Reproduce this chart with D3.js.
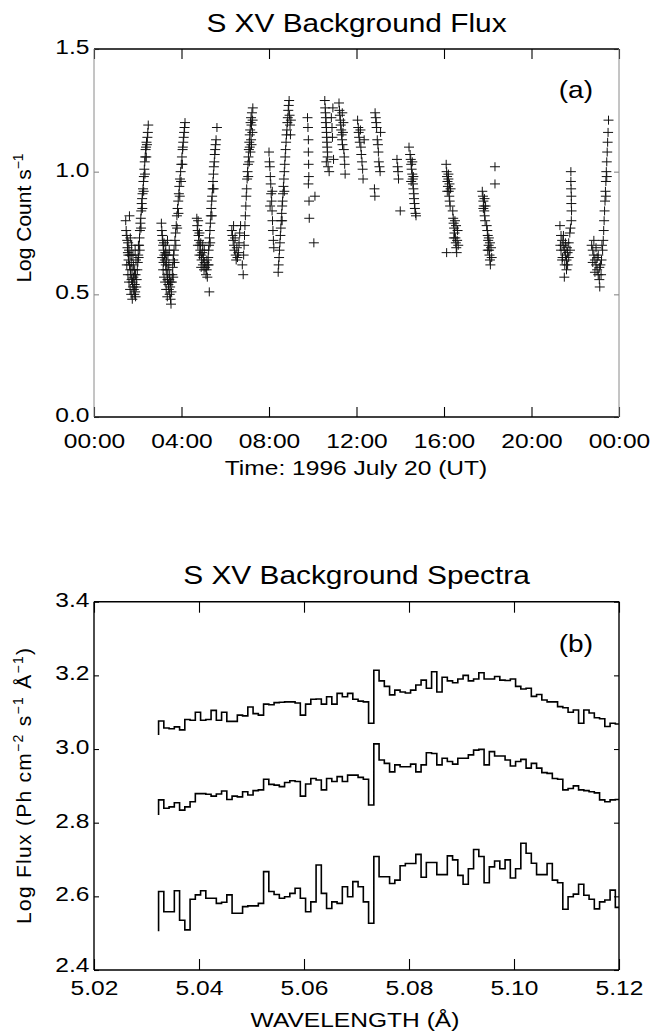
<!DOCTYPE html>
<html>
<head>
<meta charset="utf-8">
<script src="https://cdn.jsdelivr.net/npm/d3@7"></script>
<style>
  body { margin: 0; background: #fff; }
  svg text { font-family: "Liberation Sans", Arial, Helvetica, sans-serif; fill: #000; }
</style>
</head>
<body>
<svg id="chart" width="651" height="1033"></svg>
<script>
// ---- panel (a): S XV background flux, [hour UT, log count/s] per pass ----
const hourTicks = [0, 4, 8, 12, 16, 20, 24];
const hourLabels = ["00:00", "04:00", "08:00", "12:00", "16:00", "20:00", "00:00"];
const countTicks = [0, 0.5, 1.0, 1.5];

const passA = [[1.45,0.80],[1.47,0.76],[1.50,0.74],[1.52,0.72],[1.53,0.69],[1.55,0.67],[1.57,0.66],[1.58,0.64],[1.60,0.68],[1.62,0.62],[1.62,0.82],[1.64,0.66],[1.66,0.60],[1.68,0.58],[1.70,0.63],[1.72,0.56],[1.74,0.60],[1.76,0.55],[1.78,0.53],[1.80,0.57],[1.82,0.52],[1.84,0.50],[1.86,0.54],[1.88,0.51],[1.90,0.49],[1.93,0.53],[1.95,0.56],[1.56,0.71],[1.70,0.66],[1.84,0.58],
  [1.50,0.62],[1.55,0.58],[1.60,0.55],[1.65,0.52],[1.70,0.50],[1.75,0.48],[1.80,0.62],[1.86,0.60],[1.90,0.58],[1.92,0.64],[1.72,0.70],[1.66,0.73],[1.78,0.66],[1.88,0.68]];
const passB = [[1.98,0.60],[2.00,0.63],[2.02,0.66],[2.04,0.65],[2.06,0.70],[2.08,0.73],[2.10,0.76],[2.12,0.79],[2.14,0.81],[2.16,0.84],[2.18,0.87],[2.20,0.89],[2.22,0.91],[2.24,0.93],[2.26,0.96],[2.28,0.98],[2.30,1.01],[2.32,1.04],[2.34,1.06],[2.36,1.09],[2.38,1.10],[2.40,1.12],[2.42,1.11],[2.44,1.14],[2.46,1.16],[2.48,1.19],
  [2.03,0.70],[2.09,0.68],[2.15,0.77],[2.21,0.85],[2.27,0.92],[2.33,0.99],[2.39,1.06]];
const passC = [[3.08,0.79],[3.10,0.76],[3.12,0.74],[3.14,0.72],[3.16,0.70],[3.18,0.68],[3.20,0.71],[3.22,0.66],[3.24,0.64],[3.26,0.67],[3.28,0.62],[3.30,0.60],[3.32,0.63],[3.34,0.58],[3.36,0.56],[3.38,0.60],[3.40,0.54],[3.42,0.52],[3.44,0.56],[3.46,0.50],[3.48,0.53],[3.50,0.48],[3.52,0.46],[3.54,0.51],[3.18,0.63],[3.30,0.66],
  [3.12,0.65],[3.16,0.60],[3.20,0.57],[3.25,0.55],[3.30,0.52],[3.35,0.49],[3.38,0.66],[3.42,0.62],[3.46,0.58],[3.50,0.55],[3.28,0.70],[3.36,0.72],[3.44,0.68]];
const passD = [[3.56,0.55],[3.58,0.58],[3.60,0.61],[3.62,0.64],[3.64,0.66],[3.66,0.68],[3.70,0.72],[3.73,0.75],[3.76,0.78],[3.79,0.82],[3.82,0.85],[3.85,0.88],[3.88,0.91],[3.90,0.94],[3.93,0.97],[3.96,1.00],[3.99,1.03],[4.02,1.06],[4.05,1.09],[4.06,1.10],[4.08,1.12],[4.10,1.14],[4.12,1.16],[4.14,1.18],[4.16,1.20],
  [3.62,0.57],[3.68,0.63],[3.74,0.70],[3.80,0.77],[3.86,0.83],[3.92,0.90],[3.98,0.96],[4.04,1.03]];
const passE = [[4.70,0.81],[4.72,0.78],[4.74,0.76],[4.76,0.80],[4.78,0.74],[4.80,0.72],[4.82,0.75],[4.84,0.70],[4.86,0.68],[4.88,0.71],[4.90,0.66],[4.92,0.64],[4.95,0.67],[4.98,0.62],[5.00,0.65],[5.03,0.60],[5.06,0.63],[5.08,0.61],[5.27,0.51],
  [4.75,0.70],[4.82,0.66],[4.90,0.61],[4.97,0.70],[5.04,0.68]];
const passF = [[5.12,0.58],[5.15,0.60],[5.18,0.57],[5.20,0.62],[5.22,0.65],[5.24,0.68],[5.26,0.70],[5.28,0.73],[5.30,0.76],[5.32,0.79],[5.34,0.82],[5.36,0.85],[5.38,0.88],[5.40,0.90],[5.42,0.93],[5.44,0.96],[5.46,0.99],[5.48,1.02],[5.50,1.04],[5.52,1.07],[5.54,1.09],[5.56,1.11],[5.58,1.13],[5.62,1.18],
  [5.16,0.64],[5.24,0.62],[5.31,0.71],[5.39,0.82],[5.47,0.93]];
const passG = [[6.30,0.76],[6.33,0.74],[6.36,0.72],[6.38,0.78],[6.40,0.70],[6.42,0.68],[6.45,0.73],[6.48,0.66],[6.50,0.64],[6.53,0.69],[6.56,0.65],[6.60,0.67],[6.63,0.71],[6.66,0.75],[6.70,0.78]];
const passH = [[6.78,0.62],[6.82,0.58],[6.84,0.66],[6.86,0.70],[6.88,0.74],[6.90,0.78],[6.92,0.82],[6.94,0.86],[6.96,0.90],[6.98,0.93],[7.00,0.97],[7.02,1.00],[7.04,1.03],[7.06,1.06],[7.08,1.09],[7.10,1.12],[7.12,1.15],[7.14,1.17],[7.16,1.20],[7.18,1.22],[7.20,1.19],[7.22,1.24],[7.24,1.16],[7.26,1.26],[7.12,1.10],[7.18,1.13],
  [7.05,0.98],[7.10,1.04],[7.15,1.08],[7.20,1.11],[7.25,1.21]];
const passI = [[8.00,1.08],[8.02,1.04],[8.04,1.02],[8.05,0.86],[8.06,0.98],[8.08,0.95],[8.10,0.91],[8.12,0.88],[8.14,0.84],[8.15,0.92],[8.16,0.80],[8.18,0.76],[8.20,0.72],[8.22,0.69]];
const passJ = [[8.42,0.59],[8.44,0.62],[8.46,0.65],[8.48,0.68],[8.50,0.71],[8.52,0.74],[8.54,0.77],[8.56,0.80],[8.58,0.83],[8.60,0.86],[8.60,0.80],[8.62,0.88],[8.64,0.91],[8.66,0.94],[8.68,0.97],[8.70,1.00],[8.70,0.92],[8.72,1.03],[8.74,1.06],[8.76,1.09],[8.78,1.12],[8.80,1.15],[8.82,1.17],[8.84,1.20],[8.86,1.22],[8.88,1.25],[8.90,1.27],[8.92,1.29],[8.94,1.23],[8.96,1.19],[8.98,1.15],[9.00,1.21]];
const passK = [[9.76,1.22],[9.78,1.18],[9.80,1.13],[9.80,1.08],[9.81,1.03],[9.82,0.98],[9.80,0.95],[9.83,0.88],[9.84,0.81],[10.10,0.90],[10.05,0.71]];
const passL = [[10.55,1.29],[10.57,1.26],[10.58,1.24],[10.60,1.22],[10.60,1.20],[10.62,1.18],[10.63,1.16],[10.64,1.14],[10.65,1.12],[10.66,1.10],[10.67,1.08],[10.68,1.06],[10.62,1.04],[10.70,1.02],[10.75,1.00],[10.85,1.22],[10.88,1.18],[10.90,1.14],[10.92,1.26],[10.95,1.05]];
const passM = [[11.20,1.28],[11.22,1.25],[11.24,1.23],[11.26,1.21],[11.28,1.19],[11.30,1.17],[11.32,1.15],[11.34,1.13],[11.35,1.24],[11.36,1.11],[11.38,1.16],[11.40,1.20],[11.42,1.09],[11.44,1.06],[11.46,1.03],[11.48,0.99]];
const passN = [[12.05,1.21],[12.08,1.18],[12.10,1.16],[12.12,1.14],[12.15,1.12],[12.18,1.17],[12.20,1.10],[12.22,1.07],[12.25,1.04],[12.28,1.01],[12.30,0.97],[12.35,1.13]];
const passO = [[12.82,0.93],[12.84,0.90],[12.85,1.24],[12.88,1.22],[12.90,1.20],[12.92,1.18],[12.95,1.13],[12.98,1.11],[13.00,1.08],[13.02,1.04],[13.05,1.02],[13.08,1.00],[13.10,1.16]];
const passP = [[13.85,1.05],[13.88,1.02],[13.90,1.00],[13.92,0.97],[14.00,0.84]];
const passQ = [[14.40,1.10],[14.45,1.07],[14.48,1.05],[14.50,1.03],[14.50,0.96],[14.52,1.01],[14.55,0.99],[14.55,1.04],[14.57,0.97],[14.58,0.95],[14.60,0.93],[14.60,0.98],[14.62,0.91],[14.63,0.89],[14.65,0.87],[14.67,0.85],[14.70,0.83],[14.72,0.82]];
const passR = [[16.10,1.03],[16.12,1.00],[16.14,0.98],[16.16,0.96],[16.18,0.94],[16.20,0.97],[16.20,0.99],[16.22,0.92],[16.24,0.90],[16.26,0.88],[16.28,0.86],[16.30,0.93],[16.40,0.84],[16.42,0.81],[16.44,0.79],[16.46,0.77],[16.48,0.75],[16.50,0.80],[16.52,0.73],[16.54,0.71],[16.56,0.69],[16.58,0.67],[16.60,0.72],[16.62,0.76],[16.12,0.67],
  [16.15,0.92],[16.25,0.95],[16.45,0.73],[16.55,0.78],[16.65,0.70]];
const passS = [[17.75,0.92],[17.78,0.90],[17.80,0.88],[17.80,0.85],[17.82,0.86],[17.84,0.84],[17.85,0.89],[17.86,0.82],[17.88,0.80],[17.95,0.78],[17.98,0.76],[18.00,0.74],[18.02,0.72],[18.04,0.70],[18.05,0.73],[18.06,0.68],[18.08,0.66],[18.10,0.64],[18.12,0.62],[18.15,0.69],[18.33,1.02],[18.33,0.95],
  [17.90,0.86],[18.00,0.68],[18.10,0.71],[18.18,0.65]];
const passT = [[21.80,1.00],[21.80,0.96],[21.81,0.93],[21.82,0.90],[21.82,0.87],[21.83,0.84],[21.82,0.80],[21.30,0.78],[21.35,0.74],[21.40,0.72],[21.45,0.70],[21.50,0.68],[21.55,0.66],[21.60,0.64],[21.65,0.67],[21.70,0.71],[21.75,0.75],[21.78,0.77],[21.42,0.65],[21.52,0.62],[21.60,0.60],[21.50,0.57],[21.65,0.62],[21.35,0.68],
  [21.32,0.70],[21.40,0.64],[21.46,0.74],[21.55,0.71],[21.62,0.69],[21.70,0.65],[21.76,0.68]];
const passU = [[22.75,0.70],[22.80,0.68],[22.85,0.66],[22.90,0.64],[22.95,0.62],[23.00,0.60],[23.05,0.58],[23.10,0.56],[23.12,0.53],[22.85,0.72],[22.95,0.69],[23.05,0.66],[23.15,0.62],[23.20,0.64],[23.25,0.68],[23.28,0.72],[23.30,0.76],[23.32,0.80],[23.34,0.84],[23.36,0.88],[23.38,0.92],[23.40,0.96],[23.42,1.00],[23.44,1.04],[23.46,1.08],[23.48,1.12],[23.50,1.16],[23.52,1.21],[23.44,0.98],[23.40,0.90],
  [22.80,0.63],[22.90,0.59],[23.00,0.65],[23.10,0.61],[23.18,0.58],[23.22,0.70]];

// ---- panel (b): S XV background spectra, 0.001 A bins starting at 5.0323 A ----
const wlTicks = [5.02, 5.04, 5.06, 5.08, 5.10, 5.12];
const fluxTicks = [2.4, 2.6, 2.8, 3.0, 3.2, 3.4];
const binStart = 5.0323;
const binWidth = 0.001;

const specTopLead = 3.038;
const specTop = [3.076,3.057,3.055,3.060,3.052,3.080,3.078,3.100,3.078,3.080,3.105,3.078,3.100,3.075,3.075,3.092,3.090,3.114,3.096,3.092,
  3.122,3.120,3.126,3.127,3.128,3.128,3.125,3.092,3.122,3.135,3.136,3.122,3.142,3.122,3.151,3.142,3.151,3.135,3.130,3.128,
  3.070,3.214,3.185,3.170,3.147,3.160,3.155,3.152,3.160,3.174,3.187,3.165,3.210,3.155,3.195,3.185,3.180,3.190,3.200,3.185,
  3.190,3.207,3.190,3.190,3.197,3.187,3.186,3.190,3.170,3.163,3.165,3.143,3.148,3.133,3.128,3.128,3.115,3.112,3.100,3.106,
  3.070,3.106,3.098,3.085,3.082,3.061,3.070,3.068];

const specMidLead = 2.821;
const specMid = [2.862,2.839,2.843,2.854,2.834,2.843,2.857,2.879,2.879,2.877,2.872,2.878,2.886,2.863,2.872,2.870,2.884,2.875,2.887,2.889,
  2.918,2.904,2.902,2.898,2.909,2.914,2.912,2.872,2.905,2.920,2.916,2.889,2.920,2.912,2.925,2.912,2.929,2.929,2.923,2.918,
  2.848,3.014,2.970,2.961,2.938,2.957,2.952,2.952,2.959,2.938,2.957,2.990,2.988,2.957,2.975,2.966,2.959,2.975,2.975,2.984,
  2.997,2.999,2.957,2.993,2.981,2.981,2.970,2.954,2.966,2.972,2.948,2.961,2.948,2.936,2.934,2.920,2.918,2.889,2.893,2.900,
  2.889,2.887,2.884,2.881,2.862,2.857,2.862,2.863];

const specLowLead = 2.505;
const specLow = [2.613,2.558,2.558,2.615,2.535,2.509,2.592,2.604,2.615,2.595,2.595,2.581,2.584,2.604,2.554,2.554,2.572,2.574,2.574,2.581,
  2.667,2.613,2.605,2.595,2.599,2.608,2.622,2.595,2.558,2.585,2.685,2.608,2.567,2.585,2.581,2.626,2.599,2.640,2.626,2.585,
  2.527,2.708,2.653,2.653,2.635,2.644,2.683,2.689,2.689,2.714,2.652,2.692,2.692,2.659,2.659,2.710,2.699,2.657,2.633,2.675,
  2.727,2.708,2.637,2.680,2.696,2.675,2.699,2.650,2.675,2.744,2.717,2.690,2.659,2.659,2.689,2.644,2.637,2.565,2.599,2.606,
  2.633,2.603,2.592,2.566,2.585,2.590,2.617,2.570];

// ---------------------------------------------------------------
const svg = d3.select("#chart");
const stretch = 1.17;        // horizontal text is drawn wide in the original
const plotLeft = 94, plotRight = 619;

function wideText(x, y, txt, size, anchor) {
    return svg.append("text")
        .attr("transform", "translate(" + x + "," + y + ") scale(" + stretch + ",1)")
        .attr("text-anchor", anchor)
        .style("font-size", size + "px")
        .text(txt);
}

function frame(top, bottom, sideColor, sideWidth, hColor, hWidth) {
    let g = svg.append("g");
    g.append("line").attr("x1", plotLeft).attr("x2", plotRight).attr("y1", top).attr("y2", top)
        .attr("stroke", hColor).attr("stroke-width", hWidth);
    g.append("line").attr("x1", plotLeft).attr("x2", plotRight).attr("y1", bottom).attr("y2", bottom)
        .attr("stroke", hColor).attr("stroke-width", hWidth);
    g.append("line").attr("x1", plotLeft).attr("x2", plotLeft).attr("y1", top).attr("y2", bottom)
        .attr("stroke", sideColor).attr("stroke-width", sideWidth);
    g.append("line").attr("x1", plotRight).attr("x2", plotRight).attr("y1", top).attr("y2", bottom)
        .attr("stroke", sideColor).attr("stroke-width", sideWidth);
}

function cleanAxis(g, color) {
    g.attr("font-size", null).attr("font-family", null);
    g.select(".domain").remove();
    g.selectAll(".tick line").attr("stroke", color).attr("stroke-width", 1.1);
}

// ===== panel (a) =====
const aTop = 49, aBottom = 417;
const xa = d3.scaleLinear().domain([0, 24]).range([plotLeft, plotRight]);
const ya = d3.scaleLinear().domain([0, 1.5]).range([aBottom, aTop]);

wideText(356.5, 32, "S XV Background Flux", 25.5, "middle");

let gxa = svg.append("g").attr("transform", "translate(0," + aBottom + ")")
    .call(d3.axisBottom(xa).tickValues(hourTicks).tickSize(-10).tickSizeOuter(0)
        .tickFormat((d, i) => hourLabels[i]));
cleanAxis(gxa, "#000");
gxa.selectAll(".tick text").attr("y", 31).attr("dy", 0)
    .attr("transform", "scale(" + stretch + ",1)").style("font-size", "21px");

let gxaTop = svg.append("g").attr("transform", "translate(0," + aTop + ")")
    .call(d3.axisTop(xa).tickValues(hourTicks).tickSize(-10).tickSizeOuter(0).tickFormat(""));
cleanAxis(gxaTop, "#000");

let gya = svg.append("g").attr("transform", "translate(" + plotLeft + ",0)")
    .call(d3.axisLeft(ya).tickValues(countTicks).tickSize(-5).tickSizeOuter(0)
        .tickFormat(d3.format(".1f")));
cleanAxis(gya, "#888");
gya.selectAll(".tick text").attr("x", -4.5 / stretch).attr("dy", "0.22em")
    .attr("transform", "scale(" + stretch + ",1)").style("font-size", "21px");

let gyaR = svg.append("g").attr("transform", "translate(" + plotRight + ",0)")
    .call(d3.axisRight(ya).tickValues(countTicks).tickSize(-5).tickSizeOuter(0).tickFormat(""));
cleanAxis(gyaR, "#888");

frame(aTop, aBottom, "#8a8a8a", 1, "#000", 1.3);

const fluxPoints = [].concat(passA, passB, passC, passD, passE, passF, passG, passH, passI, passJ,
    passK, passL, passM, passN, passO, passP, passQ, passR, passS, passT, passU);

svg.append("g").selectAll("path").data(fluxPoints).join("path")
    .attr("transform", d => "translate(" + xa(d[0]) + "," + ya(d[1]) + ")")
    .attr("d", "M-5,0H5M0,-4.5V4.5")
    .attr("stroke", "#111").attr("stroke-width", 1).attr("fill", "none");

wideText(593, 98, "(a)", 24, "end");
wideText(356, 475, "Time: 1996 July 20 (UT)", 21, "middle");

let yla = svg.append("text").attr("transform", "translate(31,218) rotate(-90)")
    .attr("text-anchor", "middle").style("font-size", "21px");
yla.append("tspan").text("Log Count s");
yla.append("tspan").attr("dy", -8).style("font-size", "14px").text("\u22121");

// ===== panel (b) =====
const bTop = 601.7, bBottom = 970;
const xb = d3.scaleLinear().domain([5.02, 5.12]).range([plotLeft, plotRight]);
const yb = d3.scaleLinear().domain([2.4, 3.4]).range([bBottom, bTop]);

wideText(356.5, 584, "S XV Background Spectra", 25.5, "middle");

let gxb = svg.append("g").attr("transform", "translate(0," + bBottom + ")")
    .call(d3.axisBottom(xb).tickValues(wlTicks).tickSize(-11).tickSizeOuter(0)
        .tickFormat(d3.format(".2f")));
cleanAxis(gxb, "#000");
gxb.selectAll(".tick text").attr("y", 25).attr("dy", 0)
    .attr("transform", "scale(" + stretch + ",1)").style("font-size", "21px");

let gxbTop = svg.append("g").attr("transform", "translate(0," + bTop + ")")
    .call(d3.axisTop(xb).tickValues(wlTicks).tickSize(-11).tickSizeOuter(0).tickFormat(""));
cleanAxis(gxbTop, "#000");

let gyb = svg.append("g").attr("transform", "translate(" + plotLeft + ",0)")
    .call(d3.axisLeft(yb).tickValues(fluxTicks).tickSize(-5).tickSizeOuter(0)
        .tickFormat(d3.format(".1f")));
cleanAxis(gyb, "#000");
gyb.selectAll(".tick text").attr("x", -4.5 / stretch).attr("dy", "0.22em")
    .attr("transform", "scale(" + stretch + ",1)").style("font-size", "21px");
// lift the lowest label a little so it clears the 5.02 label under it
gyb.selectAll(".tick text").filter(d => d === 2.4).attr("dy", "0.05em");

let gybR = svg.append("g").attr("transform", "translate(" + plotRight + ",0)")
    .call(d3.axisRight(yb).tickValues(fluxTicks).tickSize(-5).tickSizeOuter(0).tickFormat(""));
cleanAxis(gybR, "#000");

svg.append("clipPath").attr("id", "clipB").append("rect")
    .attr("x", plotLeft).attr("y", bTop).attr("width", plotRight - plotLeft).attr("height", bBottom - bTop);

function stepPoints(lead, vals) {
    let pts = [[binStart, lead]];
    vals.forEach((v, i) => pts.push([binStart + i * binWidth, v]));
    pts.push([binStart + vals.length * binWidth, vals[vals.length - 1]]);
    return pts;
}

const stepLine = d3.line().x(d => xb(d[0])).y(d => yb(d[1])).curve(d3.curveStepAfter);

const spectra = [stepPoints(specTopLead, specTop), stepPoints(specMidLead, specMid), stepPoints(specLowLead, specLow)];
svg.append("g").attr("clip-path", "url(#clipB)")
    .selectAll("path").data(spectra).join("path")
    .attr("d", stepLine)
    .attr("fill", "none").attr("stroke", "#000").attr("stroke-width", 1.6)
    .attr("stroke-linejoin", "miter");

frame(bTop, bBottom, "#000", 1.4, "#000", 1.4);

wideText(593, 652, "(b)", 24, "end");
wideText(355, 1027, "WAVELENGTH (\u00c5)", 21, "middle");

let ylb = svg.append("text").attr("transform", "translate(31,786) rotate(-90)")
    .attr("text-anchor", "middle").style("font-size", "21px")
    .attr("textLength", 276).attr("lengthAdjust", "spacing");
ylb.append("tspan").text("Log Flux (Ph cm");
ylb.append("tspan").attr("dy", -8).style("font-size", "14px").text("\u22122");
ylb.append("tspan").attr("dy", 8).text(" s");
ylb.append("tspan").attr("dy", -8).style("font-size", "14px").text("\u22121");
ylb.append("tspan").attr("dy", 8).text(" \u00c5");
ylb.append("tspan").attr("dy", -8).style("font-size", "14px").text("\u22121");
ylb.append("tspan").attr("dy", 8).text(")");
</script>
</body>
</html>
